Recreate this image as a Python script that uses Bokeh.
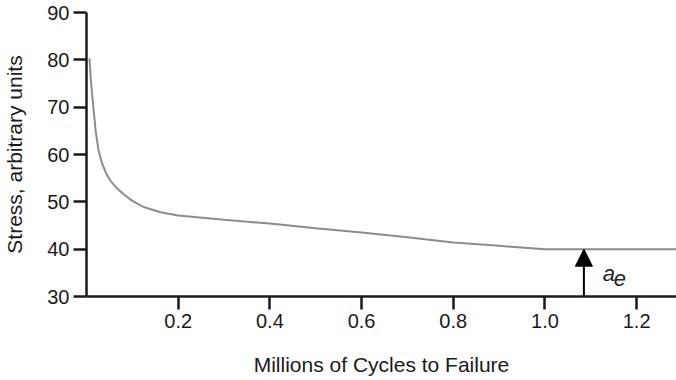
from bokeh.plotting import figure
from bokeh.models import Range1d, FixedTicker, Arrow, NormalHead
from bokeh.core.properties import value
from bokeh.embed import file_html
from bokeh.resources import INLINE

# Data
cycles_millions = [0.0065, 0.009, 0.012, 0.016, 0.02, 0.026, 0.034, 0.043, 0.052, 0.065,
                   0.081, 0.1, 0.125, 0.161, 0.2, 0.3, 0.4, 0.5, 0.6, 0.7, 0.8, 0.9, 1.0, 1.3]
stress = [80.3, 76.5, 73.0, 69.0, 65.0, 61.0, 58.1, 56.0, 54.5, 53.0,
          51.6, 50.2, 48.9, 47.8, 47.1, 46.2, 45.4, 44.4, 43.5, 42.5, 41.4, 40.7, 40.0, 40.0]
x_ticks = [0.2, 0.4, 0.6, 0.8, 1.0, 1.2]
x_tick_labels = ["0.2", "0.4", "0.6", "0.8", "1.0", "1.2"]
y_ticks = [30, 40, 50, 60, 70, 80, 90]
endurance_x = 1.085
endurance_limit = 40.0
axis_floor = 30.0
label_main = "a"
label_sub = "e"

FONT = "Liberation Sans"

p = figure(width=676, height=380, output_backend="svg", toolbar_location=None,
           x_range=Range1d(0, 1.287), y_range=Range1d(30, 90),
           min_border_left=86, min_border_right=0, min_border_top=12, min_border_bottom=84)
p.outline_line_color = None
p.grid.visible = False
p.background_fill_color = "white"
p.border_fill_color = "white"

p.line(cycles_millions, stress, line_color="#8c8c8c", line_width=2)

p.add_layout(Arrow(end=NormalHead(size=17, fill_color="black", line_color="black"),
                   x_start=endurance_x, y_start=axis_floor,
                   x_end=endurance_x, y_end=endurance_limit,
                   line_color="black", line_width=2))

p.text(x=[1.126], y=[34.9], text=[label_main], text_font=value(FONT),
       text_font_style="italic", text_font_size="22px", text_baseline="alphabetic",
       text_color="#222222")
p.text(x=[1.150], y=[33.7], text=[label_sub], text_font=value(FONT),
       text_font_style="italic", text_font_size="22px", text_baseline="alphabetic",
       text_color="#222222")

p.xaxis.ticker = FixedTicker(ticks=x_ticks)
p.xaxis.major_label_overrides = {t: l for t, l in zip(x_ticks, x_tick_labels)}
p.yaxis.ticker = FixedTicker(ticks=y_ticks)

for ax in (p.xaxis[0], p.yaxis[0]):
    ax.axis_line_width = 2.5
    ax.axis_line_color = "#1a1a1a"
    ax.major_tick_line_width = 2.5
    ax.major_tick_line_color = "#1a1a1a"
    ax.major_tick_out = 13
    ax.major_tick_in = 0
    ax.minor_tick_line_color = None
    ax.major_label_text_font = FONT
    ax.major_label_text_font_size = "20px"
    ax.major_label_text_color = "#1a1a1a"
    ax.axis_label_text_font = FONT
    ax.axis_label_text_font_size = "21px"
    ax.axis_label_text_font_style = "normal"
    ax.axis_label_text_color = "#1a1a1a"

p.xaxis.axis_label = "Millions of Cycles to Failure"
p.yaxis.axis_label = "Stress, arbitrary units"
p.xaxis.major_label_standoff = 4
p.yaxis.major_label_standoff = 4
p.xaxis.axis_label_standoff = 22
p.yaxis.axis_label_standoff = 18

open("out.html", "w").write(file_html(p, INLINE))
